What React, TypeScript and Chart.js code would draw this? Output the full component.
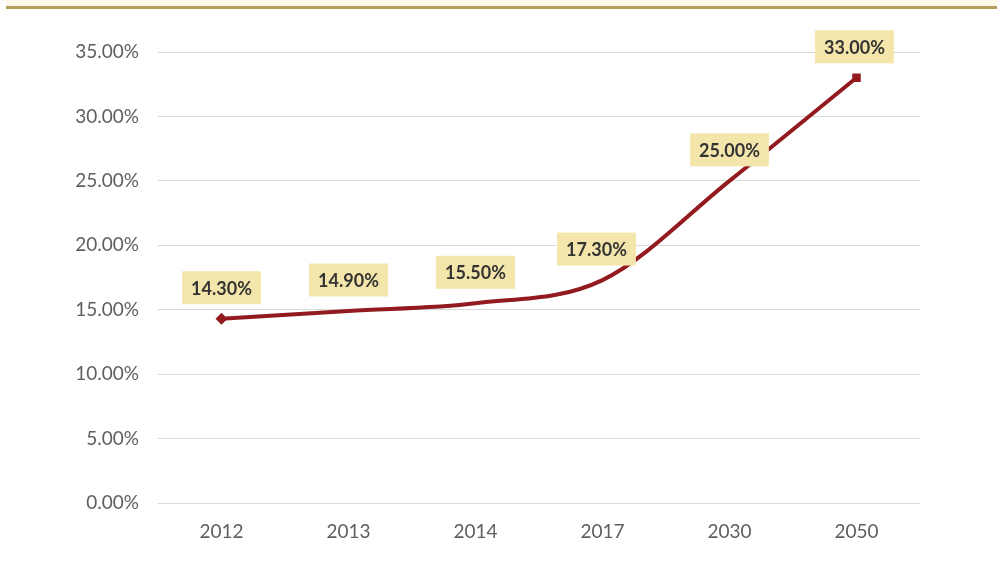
import React, { useEffect, useRef } from "react";
import { Chart, registerables } from "chart.js";

Chart.register(...registerables);

const categories = ["2012", "2013", "2014", "2017", "2030", "2050"];
const values = [14.3, 14.9, 15.5, 17.3, 25.0, 33.0];
const yTicks = [0, 5, 10, 15, 20, 25, 30, 35];
const labelTexts = ["14.30%", "14.90%", "15.50%", "17.30%", "25.00%", "33.00%"];
const pointStyles = ["rectRot", "circle", "circle", "circle", "circle", "rect"];
const pointSizes = [6, 0, 0, 0, 0, 6];

const FONT = "Lato, 'Open Sans', sans-serif";

const labelPlugin = {
  id: "boxLabels",
  afterDatasetsDraw(chart: any) {
    const ctx = chart.ctx;
    const meta = chart.getDatasetMeta(0);
    ctx.save();
    ctx.font = "bold 18px " + FONT;
    ctx.textAlign = "center";
    ctx.textBaseline = "middle";
    meta.data.forEach((pt: any, i: number) => {
      const text = labelTexts[i];
      const x = pt.x + (i === 3 ? -6 : i === 5 ? -2 : 0);
      const y = pt.y - 31;
      const w = ctx.measureText(text).width + 18;
      const h = 33;
      ctx.fillStyle = "#f4e6aa";
      ctx.fillRect(x - w / 2, y - h / 2, w, h);
      ctx.fillStyle = "#333333";
      ctx.fillText(text, x, y + 1);
    });
    ctx.restore();
  },
};

export default function App() {
  const ref = useRef<HTMLCanvasElement>(null);
  useEffect(() => {
    if (!ref.current) return;
    const chart = new Chart(ref.current, {
      type: "line",
      data: {
        labels: categories,
        datasets: [
          {
            data: values,
            borderColor: "#931a1f",
            backgroundColor: "#931a1f",
            borderWidth: 4,
            cubicInterpolationMode: "monotone",
            pointStyle: pointStyles as any,
            pointRadius: pointSizes,
            pointHoverRadius: pointSizes,
            pointBorderWidth: 0,
          },
        ],
      },
      options: {
        animation: false,
        responsive: false,
        maintainAspectRatio: false,
        layout: { padding: { top: 52, right: 77, left: 0, bottom: 0 } },
        plugins: { legend: { display: false }, tooltip: { enabled: false } },
        scales: {
          x: {
            offset: true,
            grid: { display: false },
            border: { display: false },
            ticks: {
              color: "#5f5f5f",
              font: { size: 19, family: FONT },
              padding: 9,
            },
            afterFit: (s: any) => {
              s.height = 66;
            },
          },
          y: {
            min: 0,
            max: 35,
            afterBuildTicks: (s: any) => {
              s.ticks = yTicks.map((v) => ({ value: v }));
            },
            grid: { color: "#d9d9d9", lineWidth: 1, drawTicks: false },
            border: { display: false },
            ticks: {
              color: "#5f5f5f",
              font: { size: 19, family: FONT },
              padding: 19,
              callback: (v: any) => Number(v).toFixed(2) + "%",
            },
            afterFit: (s: any) => {
              s.width = 158;
            },
          },
        },
      },
      plugins: [labelPlugin],
    });
    return () => chart.destroy();
  }, []);
  return (
    <div
      style={{
        position: "fixed",
        left: 0,
        top: 0,
        width: 997,
        height: 569,
        background: "#ffffff",
      }}
    >
      <div
        style={{
          position: "absolute",
          left: 6,
          right: 0,
          top: 0,
          height: 6,
          background: "#fdf8ea",
          borderBottom: "3px solid #b59d5c",
        }}
      />
      <canvas ref={ref} width={997} height={569} style={{ position: "absolute", left: 0, top: 0 }} />
    </div>
  );
}
